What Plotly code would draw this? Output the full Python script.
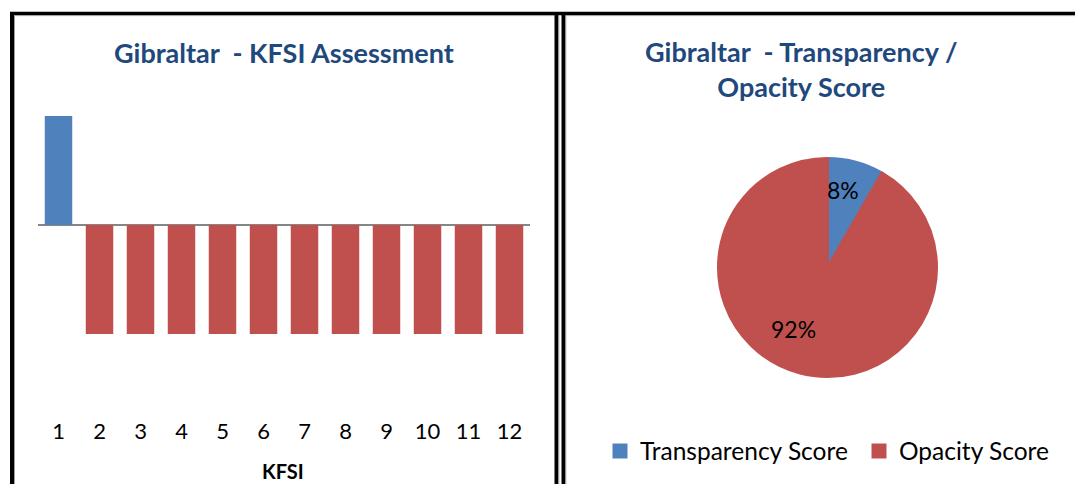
import plotly.graph_objects as go

# The page places the figure 8px from the top-left corner, so the figure is
# sized to end exactly at the window edge and coordinates are shifted.
OFF = 8
W, H = 1083 - OFF, 484 - OFF

# ---- data ----
kfsi_labels = [str(i) for i in range(1, 13)]
kfsi_values = [1, -1, -1, -1, -1, -1, -1, -1, -1, -1, -1, -1]
pie_labels = ["Transparency Score", "Opacity Score"]
pie_values = [1, 11]

BLUE = "#4F81BD"
RED = "#C0504D"
TITLE_C = "#1F497D"
FONT = "Lato"

def px_x(p):
    return (p - OFF) / W

def px_y(p):
    return (H - (p - OFF)) / H

bar_colors = [BLUE if v > 0 else RED for v in kfsi_values]

fig = go.Figure()
fig.add_trace(go.Bar(
    x=kfsi_labels, y=kfsi_values, marker=dict(color=bar_colors, line=dict(width=0)),
    showlegend=False, xaxis="x", yaxis="y", hoverinfo="x+y",
))
fig.add_trace(go.Pie(
    labels=pie_labels, values=pie_values, sort=False, direction="clockwise", rotation=0,
    marker=dict(colors=[BLUE, RED], line=dict(width=3, color=[BLUE, RED])),
    textinfo="none", showlegend=True,
    domain=dict(x=[px_x(718.5), px_x(936.5)], y=[px_y(376.5), px_y(158.5)]),
))

# pie percentage labels
total = sum(pie_values)
pct = [f"{round(v / total * 100)}%" for v in pie_values]
pie_label_pos = [(843, 190), (793, 329)]

annotations = [
    dict(text="Gibraltar\u00a0 - KFSI Assessment", x=px_x(283.5), y=px_y(52), xref="paper", yref="paper",
         showarrow=False, xanchor="center", yanchor="middle",
         font=dict(family=FONT, size=27, color=TITLE_C, weight="bold")),
    dict(text="Gibraltar\u00a0 - Transparency /<br>Opacity Score", x=px_x(800.5), y=px_y(68.5), xref="paper", yref="paper",
         showarrow=False, xanchor="center", yanchor="middle",
         font=dict(family=FONT, size=27, color=TITLE_C, weight="bold")),
    dict(text="KFSI", x=px_x(283), y=px_y(471), xref="paper", yref="paper",
         showarrow=False, xanchor="center", yanchor="middle",
         font=dict(family=FONT, size=20, color="black", weight="bold")),
]
for t, (lx, ly) in zip(pct, pie_label_pos):
    annotations.append(dict(text=t, x=px_x(lx), y=px_y(ly), xref="paper", yref="paper",
                            showarrow=False, xanchor="center", yanchor="middle",
                            font=dict(family=FONT, size=23, color="black")))

# frame shapes
def line(x0, y0, x1, y1, w, c):
    return dict(type="line", xref="paper", yref="paper", x0=px_x(x0), y0=px_y(y0), x1=px_x(x1), y1=px_y(y1),
                line=dict(color=c, width=w), layer="above")

shapes = [
    line(10, 13.5, 1083, 13.5, 3.5, "black"),
    line(12, 12, 12, 484, 4, "black"),
    line(556.5, 12, 556.5, 484, 4, "black"),
    line(563.5, 12, 563.5, 484, 4, "black"),
    line(14.5, 15.5, 14.5, 484, 1, "#A0A0A0"),
    line(558.8, 15.5, 558.8, 484, 1, "#A0A0A0"),
    line(565.8, 15.5, 565.8, 484, 1, "#A0A0A0"),
    line(14, 15.6, 554, 15.6, 1, "#A0A0A0"),
    line(566, 15.6, 1083, 15.6, 1, "#A0A0A0"),
]

ymin, ymax = -1.75, 1.25
zero_px, unit_px = 225, 109
fig.update_layout(
    width=W, height=H, margin=dict(l=0, r=0, t=0, b=0, autoexpand=False),
    paper_bgcolor="white", plot_bgcolor="white",
    bargap=0.33,
    xaxis=dict(domain=[px_x(38), px_x(530)], showgrid=False, showline=False, ticks="",
               tickfont=dict(family=FONT, size=22, color="black"), anchor="y", fixedrange=True),
    yaxis=dict(domain=[px_y(zero_px - ymin * unit_px), px_y(zero_px - ymax * unit_px)],
               range=[ymin, ymax], showgrid=False, showticklabels=False, showline=False,
               zeroline=True, zerolinecolor="#868686", zerolinewidth=2, fixedrange=True),
    legend=dict(orientation="h", x=px_x(600), xanchor="left", y=px_y(451), yanchor="middle",
                entrywidth=214, entrywidthmode="pixels",
                font=dict(family=FONT, size=24.5, color="black"), bgcolor="rgba(0,0,0,0)"),
    annotations=annotations, shapes=shapes,
)

fig.write_html("out.html")
